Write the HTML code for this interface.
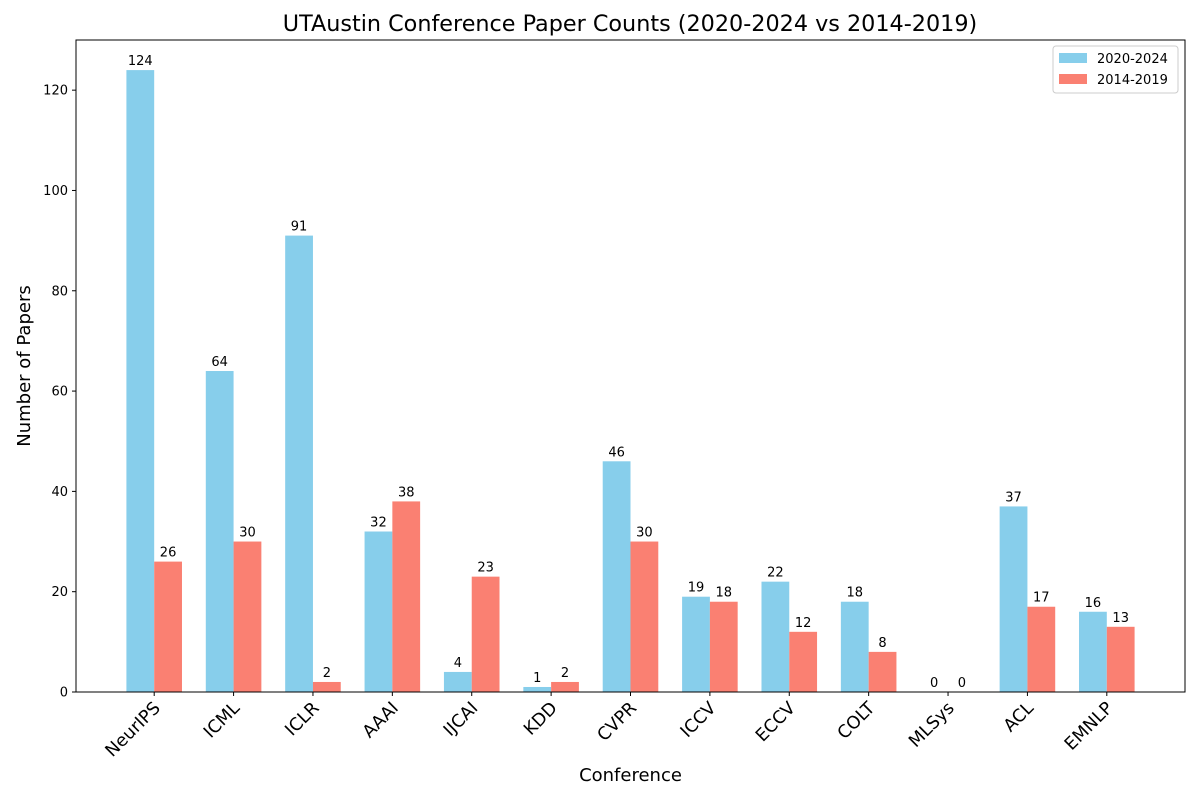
<!DOCTYPE html>
<html><head><meta charset="utf-8"><style>
body{margin:0;background:#fff;font-family:"Liberation Sans","DejaVu Sans",sans-serif;}
svg text{font-family:"DejaVu Sans","Liberation Sans",sans-serif;}
</style></head><body>
<svg id="chart" width="1200" height="800" xmlns="http://www.w3.org/2000/svg">
<rect width="1200" height="800" fill="#fff"/>
<text x="630" y="31" font-size="22.3" text-anchor="middle">UTAustin Conference Paper Counts (2020-2024 vs 2014-2019)</text>
<g id="bars"></g>
<g id="axes"></g>
</svg>
<script>
const categories=["NeurIPS","ICML","ICLR","AAAI","IJCAI","KDD","CVPR","ICCV","ECCV","COLT","MLSys","ACL","EMNLP"];
const recent=[124,64,91,32,4,1,46,19,22,18,0,37,16];
const earlier=[26,30,2,38,23,2,30,18,12,8,0,17,13];
const yTicks=[0,20,40,60,80,100,120];
const seriesNames=["2020-2024","2014-2019"];
const NS="http://www.w3.org/2000/svg";
const L=76,R=1185,T=40,B=692,yMax=130;
const n=categories.length,bw=0.35;
const xmin=-bw-0.05*(n-1+2*bw),xmax=n-1+bw+0.05*(n-1+2*bw);
const xs=v=>L+(v-xmin)/(xmax-xmin)*(R-L);
const ys=v=>B-v/yMax*(B-T);
function mk(tag,attrs,parent){const e=document.createElementNS(NS,tag);for(const k in attrs)e.setAttribute(k,attrs[k]);parent.appendChild(e);return e;}
const bars=document.getElementById('bars'),axes=document.getElementById('axes');
const colors=["#87ceeb","#fa8072"];
[recent,earlier].forEach((s,si)=>{
 s.forEach((v,i)=>{
  const x0=xs(i+(si===0?-bw:0)),x1=xs(i+(si===0?0:bw));
  const r=mk('rect',{x:x0,y:ys(v),width:x1-x0,height:ys(0)-ys(v),fill:colors[si]},bars);
  
  
  const t=mk('text',{x:(x0+x1)/2,y:ys(v)-5,'font-size':13,'text-anchor':'middle'},bars);
  t.textContent=v;
  
  
 });
});
const frame=mk('rect',{x:L,y:T,width:R-L,height:B-T,fill:'none',stroke:'#000','stroke-width':1},axes);


yTicks.forEach(v=>{
 mk('line',{x1:L-4,x2:L,y1:ys(v),y2:ys(v),stroke:'#000'},axes);
 const t=mk('text',{x:L-8,y:ys(v)+4.5,'font-size':13,'text-anchor':'end'},axes);
 t.textContent=v;
 
 
});
categories.forEach((c,i)=>{
 const x=xs(i);
 mk('line',{x1:x,x2:x,y1:B,y2:B+4,stroke:'#000'},axes);
 const t=mk('text',{x:x+7,y:B+17,'font-size':17.5,'text-anchor':'end',transform:`rotate(-45 ${x+7} ${B+17})`},axes);
 t.textContent=c;
 
 
});
const xt=mk('text',{x:(L+R)/2,y:781,'font-size':18,'text-anchor':'middle'},axes);
xt.textContent="Conference";


const yt=mk('text',{x:30,y:(T+B)/2,'font-size':18,'text-anchor':'middle',transform:`rotate(-90 30 ${(T+B)/2})`},axes);
yt.textContent="Number of Papers";


const lg=mk('g',{},axes);


mk('rect',{x:1053,y:46,width:125,height:47,rx:3,fill:'#fff',stroke:'#ccc'},lg);
seriesNames.forEach((s,i)=>{
 mk('rect',{x:1059,y:53+i*21,width:28,height:10,fill:colors[i]},lg);
 const t=mk('text',{x:1097,y:63+i*21,'font-size':13},lg);
 t.textContent=s;
 
 
});
</script>
</body></html>
